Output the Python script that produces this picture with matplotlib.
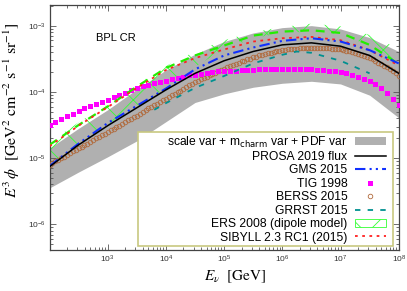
import numpy as np
import matplotlib
matplotlib.use("Agg")
import matplotlib.pyplot as plt
from matplotlib.patches import Rectangle, Patch
from matplotlib.lines import Line2D
from matplotlib.font_manager import FontProperties

plt.rcParams['font.family'] = ['Liberation Sans', 'DejaVu Sans']
plt.rcParams['mathtext.fontset'] = 'dejavusans'
plt.rcParams['hatch.linewidth'] = 0.6

# ---- data (log10 E [GeV], log10 E^3 phi) ----
logE = [2.0, 2.5, 3.0, 3.5, 4.0, 4.5, 5.0, 5.5, 6.0, 6.5, 7.0, 7.5, 8.0]
band_hi = [-4.85, -4.55, -4.27, -3.96, -3.67, -3.43, -3.24, -3.11, -3.03, -3.00, -3.05, -3.18, -3.39]
band_lo = [-5.45, -5.21, -4.98, -4.74, -4.45, -4.16, -4.03, -3.93, -3.87, -3.84, -3.88, -4.05, -4.39]
prosa = [-5.13, -4.80, -4.51, -4.24, -3.97, -3.72, -3.53, -3.39, -3.29, -3.26, -3.31, -3.45, -3.72]
gms = [-5.12, -4.78, -4.47, -4.21, -3.95, -3.66, -3.45, -3.33, -3.23, -3.19, -3.24, -3.37, -3.57]
ers_line = [-4.80, -4.50, -4.22, -3.92, -3.64, -3.45, -3.30, -3.15, -3.09, -3.07, -3.11, -3.29, -3.58]
ers_hi = [-4.76, -4.46, -4.19, -3.89, -3.61, -3.39, -3.22, -3.10, -3.02, -2.97, -3.01, -3.14, -3.35]
ers_lo = [-5.12, -4.79, -4.49, -4.22, -3.95, -3.62, -3.36, -3.19, -3.11, -3.09, -3.13, -3.30, -3.58]
sibyll = [-4.82, -4.51, -4.23, -3.94, -3.67, -3.49, -3.36, -3.24, -3.19, -3.17, -3.22, -3.37, -3.60]

logE_grrst = [3.8, 4.0, 4.5, 5.0, 5.5, 6.0, 6.25, 6.5, 7.0, 7.5]
grrst = [-4.27, -4.17, -3.94, -3.76, -3.57, -3.44, -3.39, -3.41, -3.53, -3.72]

logE_tig = [round(2.0 + 0.1 * i, 2) for i in range(61)]
tig = [-4.50, -4.45, -4.41, -4.37, -4.33, -4.29, -4.25, -4.22, -4.18, -4.15,
       -4.12, -4.08, -4.05, -4.01, -3.97, -3.94, -3.91, -3.89, -3.87, -3.85,
       -3.83, -3.81, -3.79, -3.77, -3.75, -3.74, -3.73, -3.71, -3.70, -3.69,
       -3.69, -3.68, -3.68, -3.67, -3.67, -3.67, -3.66, -3.66, -3.66, -3.66,
       -3.66, -3.66, -3.66, -3.66, -3.66, -3.66, -3.67, -3.67, -3.68, -3.69,
       -3.70, -3.72, -3.74, -3.77, -3.80, -3.83, -3.88, -3.94, -4.02, -4.10, -4.20]

logE_berss = [round(2.0 + 0.05 * i, 2) for i in range(121)]
berss = [-5.10, -5.08, -5.05, -5.03, -5.00, -4.98, -4.95, -4.93, -4.90, -4.88,
         -4.85, -4.83, -4.80, -4.78, -4.75, -4.73, -4.70, -4.68, -4.65, -4.63,
         -4.61, -4.58, -4.56, -4.53, -4.51, -4.48, -4.46, -4.43, -4.41, -4.38,
         -4.36, -4.33, -4.31, -4.28, -4.25, -4.23, -4.20, -4.18, -4.15, -4.13,
         -4.10, -4.08, -4.05, -4.03, -4.00, -3.98, -3.95, -3.93, -3.90, -3.88,
         -3.85, -3.83, -3.81, -3.79, -3.77, -3.75, -3.73, -3.71, -3.69, -3.67,
         -3.65, -3.63, -3.61, -3.60, -3.58, -3.56, -3.54, -3.53, -3.51, -3.50,
         -3.48, -3.47, -3.45, -3.44, -3.43, -3.42, -3.41, -3.40, -3.39, -3.38,
         -3.37, -3.37, -3.36, -3.36, -3.35, -3.35, -3.34, -3.34, -3.33, -3.33,
         -3.33, -3.33, -3.33, -3.33, -3.33, -3.34, -3.34, -3.35, -3.35, -3.36,
         -3.36, -3.37, -3.38, -3.39, -3.40, -3.42, -3.43, -3.45, -3.46, -3.48,
         -3.49, -3.51, -3.53, -3.56, -3.58, -3.61, -3.63, -3.66, -3.69, -3.72, -3.76]

labels = ["scale var + m$_{\\mathrm{charm}}$ var + PDF var", "PROSA 2019 flux", "GMS 2015",
          "TIG 1998", "BERSS 2015", "GRRST 2015", "ERS 2008 (dipole model)",
          "SIBYLL 2.3 RC1 (2015)"]

def p(v):
    return np.power(10.0, np.asarray(v))

E = p(logE)

fig = plt.figure(figsize=(4.07, 2.91), dpi=100)
ax = fig.add_axes([0.1229, 0.1409, 0.8567, 0.8429])
ax.set_xscale('log')
ax.set_yscale('log')

ax.fill_between(E, p(band_lo), p(band_hi), color='#b0b0b0', lw=0, zorder=1)
ax.fill_between(E, p(ers_lo), p(ers_hi), facecolor='none', edgecolor='#33ff33',
                hatch='x', lw=0, zorder=2)
ax.plot(p(logE_berss), p(berss), ls='none', marker='o', ms=3.3, mfc='none', mec='#b06a3c',
        mew=0.6, zorder=3)
ax.plot(p(logE_tig), p(tig), ls='none', marker='s', ms=3.6, color='#ff00ff', mew=0, zorder=3)
ax.plot(p(logE_grrst), p(grrst), color='#009090', lw=1.3, dashes=(3, 4), zorder=4)
ax.plot(E, p(ers_line), color='#22ee00', lw=1.6, dashes=(4, 3), zorder=4)
ax.plot(E, p(sibyll), color='#ff2020', lw=1.3, dashes=(1.5, 2.5), zorder=5)
ax.plot(E, p(gms), color='#1030ff', lw=1.5, dashes=(5, 2, 1, 2, 1, 2), zorder=5)
ax.plot(E, p(prosa), color='black', lw=1.1, zorder=6)

ax.set_xlim(1.02e2, 1.0e8)
ax.set_ylim(4.1e-7, 2.07e-3)
ax.set_xticks([1e3, 1e4, 1e5, 1e6, 1e7, 1e8])
ax.set_yticks([1e-6, 1e-5, 1e-4, 1e-3])
ax.tick_params(which='both', direction='in', top=True, right=True, colors='#555555',
               labelcolor='#333333', labelsize=6, width=0.6)
ax.tick_params(which='major', length=4, pad=3)
ax.tick_params(which='minor', length=2)
for s in ax.spines.values():
    s.set_color('#444444')
    s.set_linewidth(0.9)

ax.text(0.133, 0.866, 'BPL CR', transform=ax.transAxes, fontsize=8, va='center', ha='left')

ax.set_ylabel(r'$E^3\,\phi\ \ [\mathrm{GeV}^2\ \mathrm{cm}^{-2}\ \mathrm{s}^{-1}\ \mathrm{sr}^{-1}]$',
              fontsize=11.4, math_fontfamily='stix')
ax.yaxis.set_label_coords(-0.08, 0.571)
ax.set_xlabel(r'$E_\nu\ \ [\mathrm{GeV}]$', fontsize=11, math_fontfamily='stix')
ax.xaxis.set_label_coords(0.53, -0.075)

# legend box
box = Rectangle((0.252, 0.016), 0.732, 0.465, transform=ax.transAxes, facecolor='white',
                edgecolor='#c8c880', lw=1.2, zorder=10)
ax.add_patch(box)

handles = [Patch(facecolor='#b0b0b0', edgecolor='none'),
           Line2D([], [], color='black', lw=1.1),
           Line2D([], [], color='#1030ff', lw=1.5, dashes=(5, 2, 1, 2, 1, 2)),
           Line2D([], [], ls='none', marker='s', ms=3.6, color='#ff00ff', mew=0),
           Line2D([], [], ls='none', marker='o', ms=3.3, mfc='none', mec='#b06a3c', mew=0.6),
           Line2D([], [], color='#009090', lw=1.3, dashes=(3, 4)),
           Patch(facecolor='none', edgecolor='#33ff33', hatch='x', lw=0.6),
           Line2D([], [], color='#ff2020', lw=1.3, dashes=(1.5, 2.5))]
leg = ax.legend(handles, labels, loc='upper right', bbox_to_anchor=(0.9636, 0.471),
                frameon=False, markerfirst=False, borderpad=0, borderaxespad=0,
                handlelength=2.6, handletextpad=0.6, labelspacing=0.12,
                prop=FontProperties(family=['Liberation Sans', 'DejaVu Sans'], size=8.7,
                                    math_fontfamily='dejavusans'))
leg.set_zorder(11)

fig.savefig('out.png', dpi=100)
